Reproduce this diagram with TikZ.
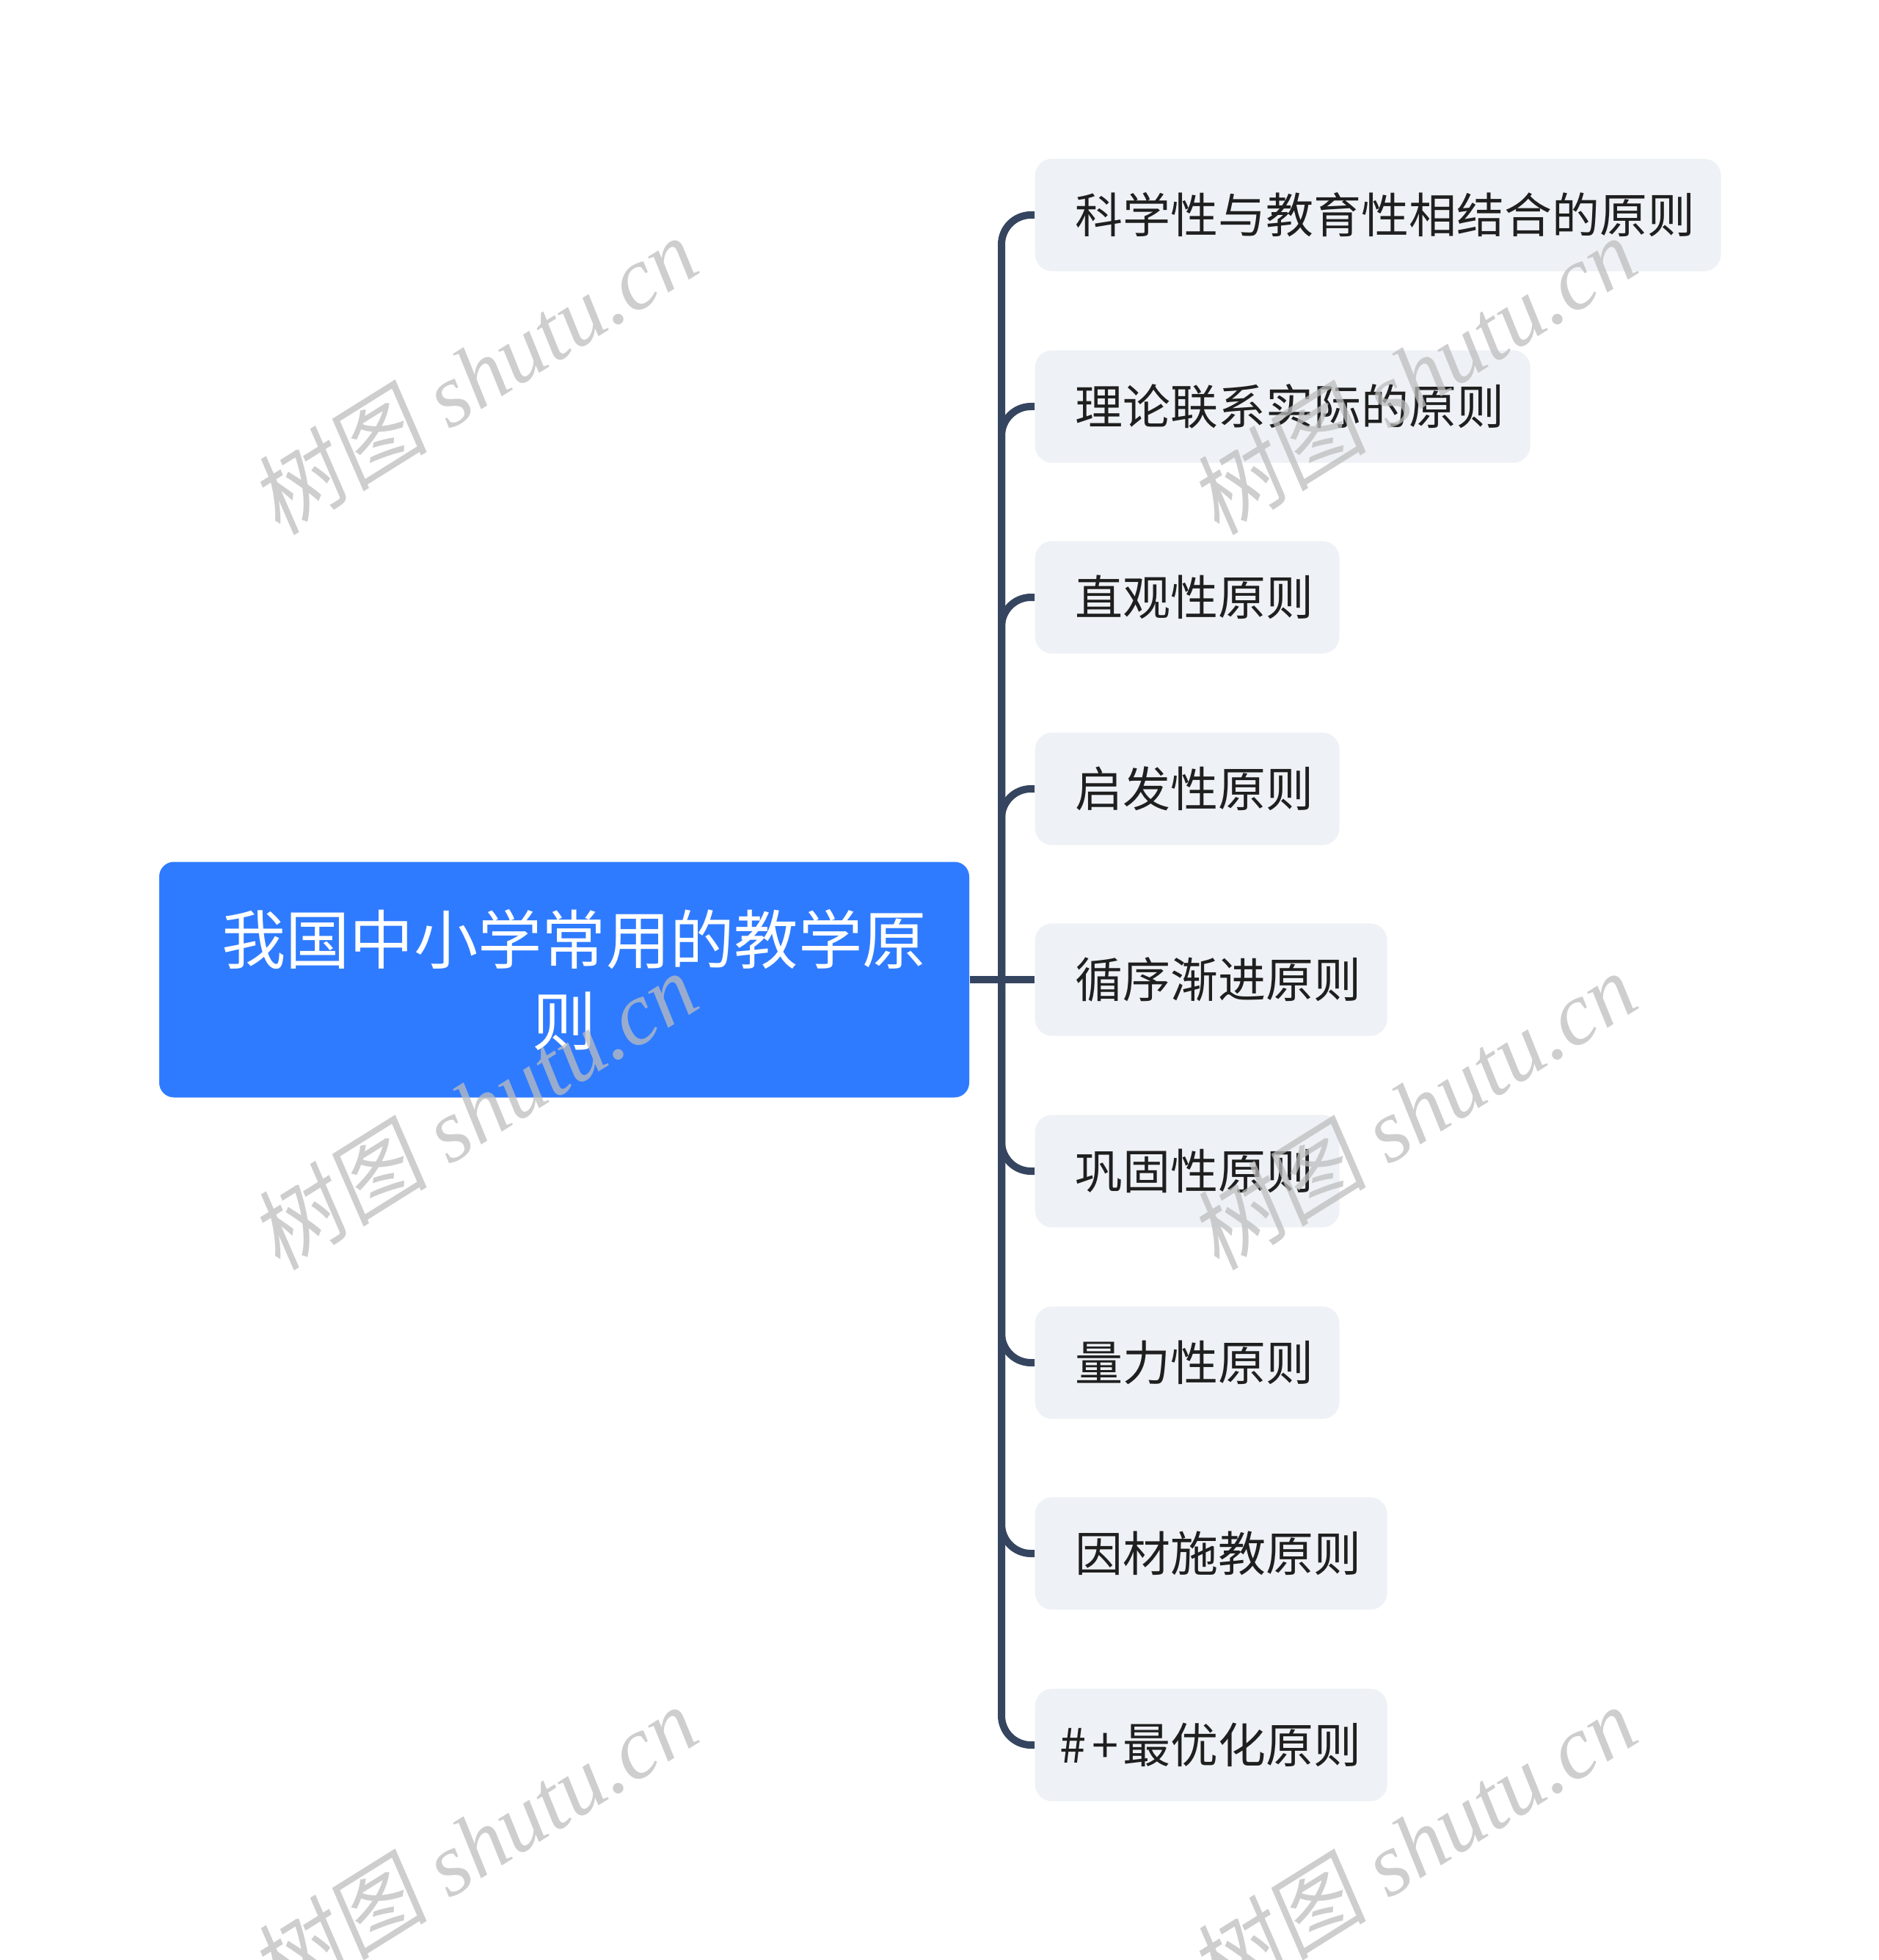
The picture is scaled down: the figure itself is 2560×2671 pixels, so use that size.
\documentclass[tikz,border=0pt]{standalone}
\usepackage{fontspec}
\setmainfont{Noto Sans CJK SC}
\newfontfamily\wmlatin{Liberation Serif}
\newfontfamily\wmcjk[FakeSlant=0.15]{Noto Sans CJK SC}
\definecolor{rootblue}{HTML}{2F7BFF}
\definecolor{childbg}{HTML}{EEF1F5}
\definecolor{linec}{HTML}{354560}
\definecolor{wmgray}{HTML}{BDBDBD}
\tikzset{
  rootbox/.style={fill=rootblue, rounded corners=6pt, minimum width=331.2pt, minimum height=96.3pt,
    text=white, align=center, font=\fontsize{26.2}{33.3}\selectfont, inner sep=0pt},
  basebox/.style={fill=childbg, rounded corners=7pt, minimum height=46pt, inner xsep=0pt,
    inner ysep=0pt, anchor=west, text=black!88, font=\fontsize{19.5}{24}\selectfont},
  childbox/.style={basebox, execute at begin node=\hspace*{16.4pt}, execute at end node=\hspace*{10.6pt}},
  lastbox/.style={basebox, execute at begin node=\hspace*{10.2pt}, execute at end node=\hspace*{10.7pt}},
  conn/.style={draw=linec, line width=3pt},
  wmark/.style={text=wmgray, opacity=0.75, rotate=32, font=\wmlatin\itshape\fontsize{36.5}{36.5}\selectfont, inner sep=0pt}
}
\begin{document}
\begin{tikzpicture}[x=0.3pt,y=-0.3pt]
\useasboundingbox (0,0) rectangle (2560,2671);
\node[rootbox] (root) at (769,1335) {\hspace*{8pt}我国中小学常用的教学原\\则};
\node[childbox] (c1) at (1410,293) {科学性与教育性相结合的原则};
\node[childbox] (c2) at (1410,554) {理论联系实际的原则};
\node[childbox] (c3) at (1410,814) {直观性原则};
\node[childbox] (c4) at (1410,1075) {启发性原则};
\node[childbox] (c5) at (1410,1335) {循序渐进原则};
\node[childbox] (c6) at (1410,1596) {巩固性原则};
\node[childbox] (c7) at (1410,1857) {量力性原则};
\node[childbox] (c8) at (1410,2117) {因材施教原则};
\node[lastbox] (c9) at (1410,2378) {\#\hspace{2.2pt}+\hspace{1.8pt}最优化原则};
\coordinate (J) at (1365,1335);
\draw[conn] (root.east) -- (c5.west);
\foreach \i in {1,2,3,4,6,7,8,9} {
  \draw[conn, rounded corners=12pt] (J) |- (c\i.west);
}
\node[wmark] (w1) at (645,511) {{\wmcjk 树图} shutu.cn};
\node[wmark] (w2) at (1925,511) {{\wmcjk 树图} shutu.cn};
\node[wmark] (w3) at (645,1513) {{\wmcjk 树图} shutu.cn};
\node[wmark] (w4) at (1925,1513) {{\wmcjk 树图} shutu.cn};
\node[wmark] (w5) at (645,2513) {{\wmcjk 树图} shutu.cn};
\node[wmark] (w6) at (1925,2513) {{\wmcjk 树图} shutu.cn};
\end{tikzpicture}
\end{document}
